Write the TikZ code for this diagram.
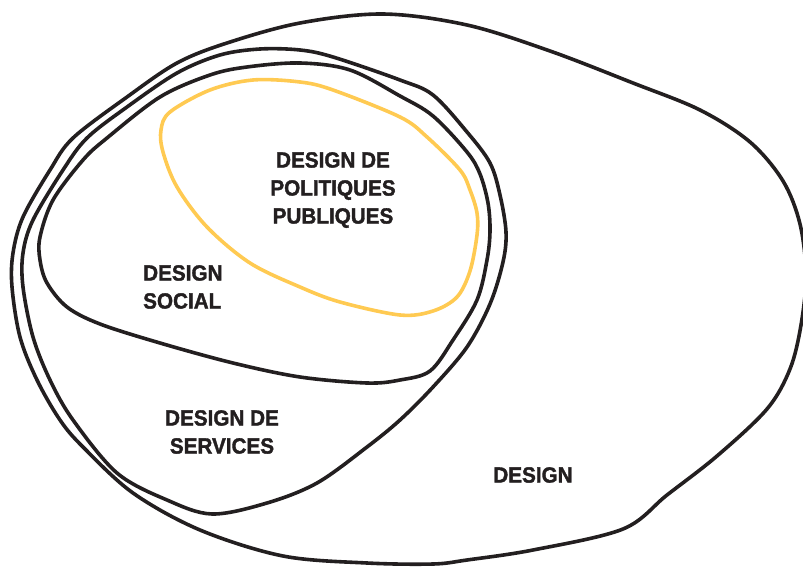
\documentclass[tikz,border=0pt]{standalone}
\usepackage{fontspec}
\newfontfamily\labfont{Liberation Sans}[FakeStretch=0.94,BoldFeatures={FakeStretch=0.94,FakeBold=1.6}]
\definecolor{inkblack}{RGB}{35,31,32}
\definecolor{polyellow}{RGB}{255,202,82}
\begin{document}
\begin{tikzpicture}[x=1pt,y=-1pt,
  blob/.style={draw=inkblack,line width=3.6pt,line join=round,line cap=round},
  yblob/.style={draw=polyellow,line width=3.6pt,line join=round,line cap=round},
  lab/.style={inner sep=0pt,font=\labfont\bfseries\fontsize{22}{28}\selectfont,text=inkblack}]
\useasboundingbox (0,0) rectangle (803,567);
\clip (0,0) rectangle (803,567);
% outer: DESIGN
\draw[blob] plot[smooth cycle,tension=0.55] coordinates {
  (300,23) (383,14) (467,25) (550,51) (633,83) (700,110) (750,142) (783,181) (800,224)
  (806,275) (801,325) (790,369) (767,409) (717,456) (667,495) (623,529)
  (533,550) (467,560) (433,564) (367,563) (283,556) (200,530) (133,493)
  (83,447) (60,420) (37,380) (20,337) (12,287) (13,253) (23,217) (50,170)
  (73,138) (127,97) (177,63) (227,43)};
% DESIGN DE SERVICES
\draw[blob] plot[smooth cycle,tension=0.55] coordinates {
  (300,50) (333,57) (400,80) (433,95) (467,132) (490,163) (500,195) (506,232)
  (503,262) (490,304) (467,347) (433,387) (400,420) (367,447) (317,483)
  (267,503) (212,514) (167,500) (117,473) (73,420) (50,380) (33,337)
  (23,287) (23,253) (33,220) (63,170) (87,138) (127,107) (177,73) (220,55) (260,49)};
% DESIGN SOCIAL
\draw[blob] plot[smooth cycle,tension=0.55] coordinates {
  (300,63) (350,70) (400,96) (433,116) (467,152) (480,174) (488,203) (490,231)
  (487,260) (477,300) (453,340) (430,371) (400,380) (367,383) (300,377)
  (233,363) (160,343) (100,324) (67,307) (47,283) (40,260) (40,237) (53,200)
  (83,160) (107,138) (160,97) (210,75) (247,67)};
% DESIGN DE POLITIQUES PUBLIQUES
\draw[yblob] plot[smooth cycle,tension=0.55] coordinates {
  (253,80) (300,82) (333,90) (400,117) (427,137) (460,170) (470,190) (477,213)
  (477,235) (470,271) (457,297) (433,311) (400,315) (340,302) (300,287)
  (250,263) (207,227) (177,187) (163,152) (161,130) (170,112) (210,90)};
\node[lab,anchor=north,align=center] (pol) at (333,152) {DESIGN DE\\POLITIQUES\\PUBLIQUES};
\node[lab,anchor=north west,align=left] (soc) at (143,265) {DESIGN\\SOCIAL};
\node[lab,anchor=north,align=center] (ser) at (222,410) {DESIGN DE\\SERVICES};
\node[lab,anchor=north] (des) at (533,467) {DESIGN};
\end{tikzpicture}
\end{document}
